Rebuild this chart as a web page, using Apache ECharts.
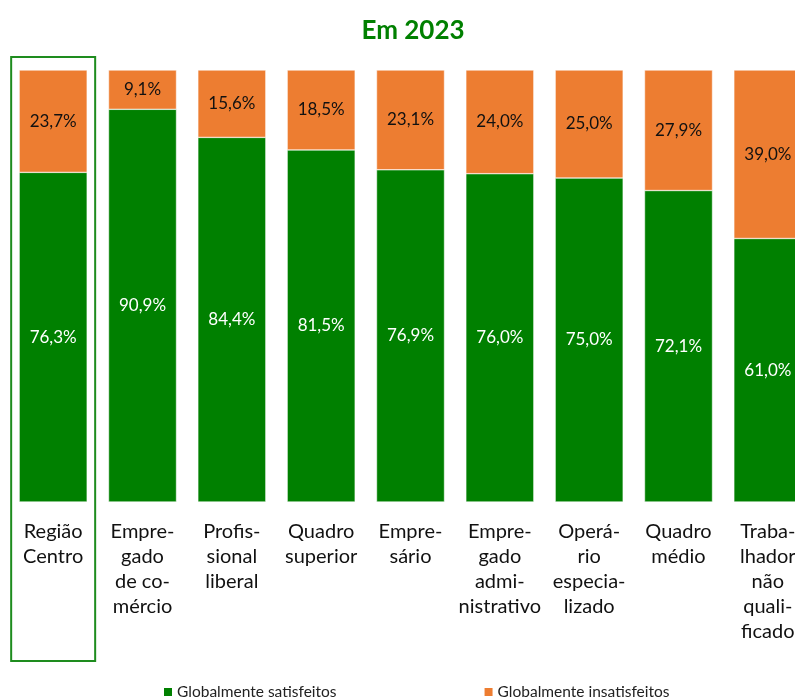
<!DOCTYPE html>
<html>
<head>
<meta charset="utf-8">
<script src="https://cdn.jsdelivr.net/npm/echarts@6/dist/echarts.min.js"></script>
<style>
html,body{margin:0;padding:0;background:#fff;overflow:hidden;width:795px;height:700px;}
#c{width:815px;height:700px;}
</style>
</head>
<body>
<div id="c"></div>
<script>
const categories = ["Região Centro","Empregado de comércio","Profissional liberal","Quadro superior","Empresário","Empregado administrativo","Operário especializado","Quadro médio","Trabalhador não qualificado"];
const tickLabels = ["Região\nCentro","Empre-\ngado\nde co-\nmércio","Profis-\nsional\nliberal","Quadro\nsuperior","Empre-\nsário","Empre-\ngado\nadmi-\nnistrativo","Operá-\nrio\nespecia-\nlizado","Quadro\nmédio","Traba-\nlhador\nnão\nquali-\nficado"];
const satisfeitos = [76.3, 90.9, 84.4, 81.5, 76.9, 76.0, 75.0, 72.1, 61.0];
const insatisfeitos = [23.7, 9.1, 15.6, 18.5, 23.1, 24.0, 25.0, 27.9, 39.0];
const seriesNames = ["Globalmente satisfeitos","Globalmente insatisfeitos"];
const titleText = "Em 2023";

const FONT = "Lato, 'Open Sans', sans-serif";
const fmt = p => p.value.toFixed(1).replace('.', ',') + '%';

const chart = echarts.init(document.getElementById('c'), null, {renderer:'canvas'});
chart.setOption({
  animation:false,
  backgroundColor:'#fff',
  textStyle:{fontFamily:FONT},
  title:{
    text:titleText, left:408, textAlign:'center', top:13,
    textStyle:{color:'#008000', fontSize:26, fontWeight:'bold', fontFamily:FONT}
  },
  legend:{
    left:162, top:684, padding:0, itemGap:146, itemWidth:10, itemHeight:10,
    icon:'rect',
    textStyle:{fontSize:15.5, color:'#222', fontFamily:FONT, padding:[0,0,0,-1]},
    data:seriesNames
  },
  grid:{left:8.5, top:70, width:804, height:432, containLabel:false, outerBoundsMode:'none'},
  xAxis:{
    type:'category', data:tickLabels,
    axisLine:{show:false}, axisTick:{show:false},
    axisLabel:{interval:0, margin:17, fontSize:20, lineHeight:25, color:'#111', fontFamily:FONT, verticalAlign:'top'}
  },
  yAxis:{type:'value', min:0, max:100, show:false, splitLine:{show:false}},
  series:[
    {name:seriesNames[0], type:'bar', stack:'t', data:satisfeitos, barWidth:68,
     itemStyle:{color:'#008000', borderColor:'#fff', borderWidth:0.5},
     label:{show:true, position:'inside', formatter:fmt, color:'#fff', fontSize:17, fontFamily:FONT}},
    {name:seriesNames[1], type:'bar', stack:'t', data:insatisfeitos, barWidth:68,
     itemStyle:{color:'#ED7D31', borderColor:'#fff', borderWidth:0.5},
     label:{show:true, position:'inside', formatter:fmt, color:'#111', fontSize:17, fontFamily:FONT}}
  ]
});

const cx = chart.convertToPixel({xAxisIndex:0}, 0);
const yTop = chart.convertToPixel({yAxisIndex:0}, 100);
const yBot = chart.convertToPixel({yAxisIndex:0}, 0);
chart.setOption({
  graphic:[{
    type:'rect', silent:true,
    shape:{x:cx-42, y:yTop-13, width:84, height:(yBot+159)-(yTop-13)},
    style:{fill:'none', stroke:'#1E8C1E', lineWidth:2}
  }]
});
</script>
</body>
</html>
